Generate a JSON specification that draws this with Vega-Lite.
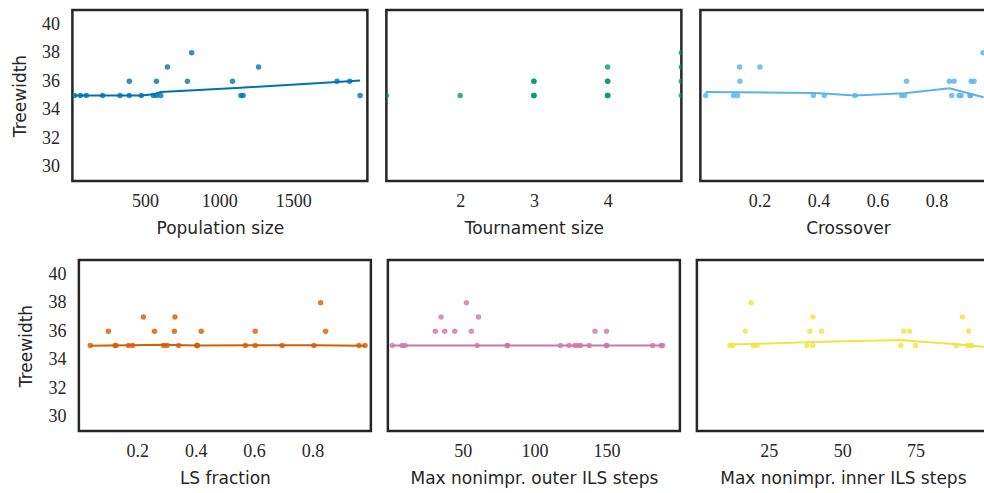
{
  "$schema": "https://vega.github.io/schema/vega-lite/v6.json",
  "background": "white",
  "padding": {"left": 10, "top": 8, "right": 0, "bottom": 5},
  "config": {
    "view": {"stroke": "#262626", "strokeWidth": 2.5},
    "axis": {"grid": false, "ticks": false, "domain": false, "labelOverlap": false, "labelFont": "Liberation Serif", "labelFontSize": 18, "labelColor": "#262626", "titleFont": "DejaVu Sans", "titleFontSize": 17, "titleFontWeight": "normal", "titleColor": "#262626", "labelPadding": 11, "titlePadding": 10},
    "axisY": {"labelPadding": 13, "titlePadding": 12},
    "point": {"filled": true, "size": 30, "opacity": 0.8}
  },
  "datasets": {
    "p1": [
      {"x": 25, "y": 35}, {"x": 65, "y": 35}, {"x": 104, "y": 35}, {"x": 214, "y": 35}, {"x": 331, "y": 35}, {"x": 394, "y": 35}, {"x": 475, "y": 35}, {"x": 556, "y": 35}, {"x": 577, "y": 35}, {"x": 606, "y": 35}, {"x": 1147, "y": 35}, {"x": 1162, "y": 35}, {"x": 1951, "y": 35},
      {"x": 394, "y": 36}, {"x": 577, "y": 36}, {"x": 786, "y": 36}, {"x": 1090, "y": 36}, {"x": 1795, "y": 36}, {"x": 1881, "y": 36},
      {"x": 651, "y": 37}, {"x": 1266, "y": 37}, {"x": 815, "y": 38}
    ],
    "l1": [
      {"x": 25, "y": 35.0}, {"x": 214, "y": 35.0}, {"x": 475, "y": 35.0}, {"x": 556, "y": 35.08}, {"x": 606, "y": 35.25}, {"x": 1147, "y": 35.55}, {"x": 1795, "y": 35.95}, {"x": 1951, "y": 36.05}
    ],
    "p2": [
      {"x": 1, "y": 35}, {"x": 2, "y": 35}, {"x": 3, "y": 35}, {"x": 3, "y": 35}, {"x": 3, "y": 35}, {"x": 3, "y": 36}, {"x": 3, "y": 36},
      {"x": 4, "y": 35}, {"x": 4, "y": 35}, {"x": 4, "y": 35}, {"x": 4, "y": 36}, {"x": 4, "y": 36}, {"x": 4, "y": 37},
      {"x": 5, "y": 35}, {"x": 5, "y": 36}, {"x": 5, "y": 37}, {"x": 5, "y": 38}
    ],
    "p3": [
      {"x": 0.018, "y": 35}, {"x": 0.112, "y": 35}, {"x": 0.126, "y": 35}, {"x": 0.383, "y": 35}, {"x": 0.42, "y": 35}, {"x": 0.524, "y": 35}, {"x": 0.682, "y": 35}, {"x": 0.692, "y": 35}, {"x": 0.852, "y": 35}, {"x": 0.877, "y": 35}, {"x": 0.884, "y": 35}, {"x": 0.914, "y": 35}, {"x": 0.916, "y": 35},
      {"x": 0.134, "y": 36}, {"x": 0.699, "y": 36}, {"x": 0.844, "y": 36}, {"x": 0.86, "y": 36}, {"x": 0.918, "y": 36}, {"x": 0.928, "y": 36},
      {"x": 0.133, "y": 37}, {"x": 0.202, "y": 37}, {"x": 0.958, "y": 38}
    ],
    "l3": [
      {"x": 0.018, "y": 35.25}, {"x": 0.126, "y": 35.22}, {"x": 0.383, "y": 35.17}, {"x": 0.42, "y": 35.14}, {"x": 0.524, "y": 35.0}, {"x": 0.692, "y": 35.15}, {"x": 0.844, "y": 35.5}, {"x": 0.96, "y": 34.88}
    ],
    "p4": [
      {"x": 0.039, "y": 35}, {"x": 0.124, "y": 35}, {"x": 0.127, "y": 35}, {"x": 0.17, "y": 35}, {"x": 0.184, "y": 35}, {"x": 0.29, "y": 35}, {"x": 0.302, "y": 35}, {"x": 0.342, "y": 35}, {"x": 0.405, "y": 35}, {"x": 0.405, "y": 35}, {"x": 0.405, "y": 35}, {"x": 0.57, "y": 35}, {"x": 0.604, "y": 35}, {"x": 0.696, "y": 35}, {"x": 0.805, "y": 35}, {"x": 0.959, "y": 35}, {"x": 0.98, "y": 35},
      {"x": 0.101, "y": 36}, {"x": 0.259, "y": 36}, {"x": 0.327, "y": 36}, {"x": 0.419, "y": 36}, {"x": 0.604, "y": 36}, {"x": 0.845, "y": 36},
      {"x": 0.221, "y": 37}, {"x": 0.329, "y": 37}, {"x": 0.828, "y": 38}
    ],
    "l4": [
      {"x": 0.039, "y": 34.98}, {"x": 0.17, "y": 35.02}, {"x": 0.29, "y": 35.06}, {"x": 0.405, "y": 35.0}, {"x": 0.6, "y": 35.01}, {"x": 0.805, "y": 35.01}, {"x": 0.98, "y": 34.99}
    ],
    "p5": [
      {"x": 1, "y": 35}, {"x": 8, "y": 35}, {"x": 10, "y": 35}, {"x": 60, "y": 35}, {"x": 81, "y": 35}, {"x": 81, "y": 35}, {"x": 118, "y": 35}, {"x": 124, "y": 35}, {"x": 128, "y": 35}, {"x": 130, "y": 35}, {"x": 132, "y": 35}, {"x": 138, "y": 35}, {"x": 150, "y": 35}, {"x": 150, "y": 35}, {"x": 182, "y": 35}, {"x": 188, "y": 35}, {"x": 189, "y": 35},
      {"x": 31, "y": 36}, {"x": 37.5, "y": 36}, {"x": 44.5, "y": 36}, {"x": 56, "y": 36}, {"x": 142, "y": 36}, {"x": 150, "y": 36},
      {"x": 35, "y": 37}, {"x": 61, "y": 37}, {"x": 52.6, "y": 38}
    ],
    "l5": [
      {"x": 1, "y": 35}, {"x": 60, "y": 35}, {"x": 150, "y": 35}, {"x": 189, "y": 35}
    ],
    "p6": [
      {"x": 11.8, "y": 35}, {"x": 12.7, "y": 35}, {"x": 19.8, "y": 35}, {"x": 21, "y": 35}, {"x": 38, "y": 35}, {"x": 40, "y": 35}, {"x": 70, "y": 35}, {"x": 75, "y": 35}, {"x": 88.9, "y": 35}, {"x": 92.8, "y": 35}, {"x": 94, "y": 35}, {"x": 94, "y": 35},
      {"x": 17, "y": 36}, {"x": 39, "y": 36}, {"x": 43, "y": 36}, {"x": 71, "y": 36}, {"x": 73, "y": 36}, {"x": 93.1, "y": 36},
      {"x": 40, "y": 37}, {"x": 91, "y": 37}, {"x": 19, "y": 38}
    ],
    "l6": [
      {"x": 11.8, "y": 35.07}, {"x": 21, "y": 35.12}, {"x": 40, "y": 35.24}, {"x": 70, "y": 35.38}, {"x": 75, "y": 35.3}, {"x": 88.9, "y": 35.08}, {"x": 94, "y": 34.98}, {"x": 99.7, "y": 34.88}
    ]
  },
  "center": true,
  "spacing": 20,
  "vconcat": [
    {
      "spacing": 15,
      "hconcat": [
        {
          "width": 295, "height": 171,
          "encoding": {
            "x": {"field": "x", "type": "quantitative", "title": "Population size", "scale": {"domain": [10, 2000], "nice": false, "zero": false}, "axis": {"values": [500, 1000, 1500], "format": "d", "labelOverlap": false}},
            "y": {"field": "y", "type": "quantitative", "title": "Treewidth", "scale": {"domain": [29, 41], "nice": false, "zero": false}, "axis": {"values": [30, 32, 34, 36, 38, 40], "labelOverlap": false, "labelBound": false}}
          },
          "layer": [
            {"data": {"name": "p1"}, "mark": {"type": "point", "clip": true, "color": "#0072B2"}},
            {"data": {"name": "l1"}, "mark": {"type": "line", "clip": true, "color": "#0072B2", "strokeWidth": 2}}
          ]
        },
        {
          "width": 295, "height": 171,
          "encoding": {
            "x": {"field": "x", "type": "quantitative", "title": "Tournament size", "scale": {"domain": [1, 5], "nice": false, "zero": false}, "axis": {"values": [2, 3, 4], "format": "d", "labelOverlap": false}},
            "y": {"field": "y", "type": "quantitative", "scale": {"domain": [29, 41], "nice": false, "zero": false}, "axis": null}
          },
          "layer": [
            {"data": {"name": "p2"}, "mark": {"type": "point", "clip": true, "color": "#009E73"}}
          ]
        },
        {
          "width": 295, "height": 171,
          "encoding": {
            "x": {"field": "x", "type": "quantitative", "title": "Crossover", "scale": {"domain": [0, 1], "nice": false, "zero": false}, "axis": {"values": [0.2, 0.4, 0.6, 0.8], "format": ".1f", "labelOverlap": false}},
            "y": {"field": "y", "type": "quantitative", "scale": {"domain": [29, 41], "nice": false, "zero": false}, "axis": null}
          },
          "layer": [
            {"data": {"name": "p3"}, "mark": {"type": "point", "clip": true, "color": "#56B4E9"}},
            {"data": {"name": "l3"}, "mark": {"type": "line", "clip": true, "color": "#56B4E9", "strokeWidth": 2}}
          ]
        }
      ]
    },
    {
      "spacing": 13,
      "hconcat": [
        {
          "width": 292, "height": 171,
          "encoding": {
            "x": {"field": "x", "type": "quantitative", "title": "LS fraction", "scale": {"domain": [0, 1], "nice": false, "zero": false}, "axis": {"values": [0.2, 0.4, 0.6, 0.8], "format": ".1f", "labelOverlap": false}},
            "y": {"field": "y", "type": "quantitative", "title": "Treewidth", "scale": {"domain": [29, 41], "nice": false, "zero": false}, "axis": {"values": [30, 32, 34, 36, 38, 40], "labelOverlap": false, "labelBound": false}}
          },
          "layer": [
            {"data": {"name": "p4"}, "mark": {"type": "point", "clip": true, "color": "#D55E00"}},
            {"data": {"name": "l4"}, "mark": {"type": "line", "clip": true, "color": "#D55E00", "strokeWidth": 2}}
          ]
        },
        {
          "width": 292, "height": 171,
          "encoding": {
            "x": {"field": "x", "type": "quantitative", "title": "Max nonimpr. outer ILS steps", "scale": {"domain": [-2, 201], "nice": false, "zero": false}, "axis": {"values": [50, 100, 150], "format": "d", "labelOverlap": false}},
            "y": {"field": "y", "type": "quantitative", "scale": {"domain": [29, 41], "nice": false, "zero": false}, "axis": null}
          },
          "layer": [
            {"data": {"name": "p5"}, "mark": {"type": "point", "clip": true, "color": "#CC79A7"}},
            {"data": {"name": "l5"}, "mark": {"type": "line", "clip": true, "color": "#CC79A7", "strokeWidth": 2}}
          ]
        },
        {
          "width": 292, "height": 171,
          "encoding": {
            "x": {"field": "x", "type": "quantitative", "title": "Max nonimpr. inner ILS steps", "scale": {"domain": [0.5, 100], "nice": false, "zero": false}, "axis": {"values": [25, 50, 75], "format": "d", "labelOverlap": false}},
            "y": {"field": "y", "type": "quantitative", "scale": {"domain": [29, 41], "nice": false, "zero": false}, "axis": null}
          },
          "layer": [
            {"data": {"name": "p6"}, "mark": {"type": "point", "clip": true, "color": "#F0E442"}},
            {"data": {"name": "l6"}, "mark": {"type": "line", "clip": true, "color": "#F0E442", "strokeWidth": 2}}
          ]
        }
      ]
    }
  ]
}
